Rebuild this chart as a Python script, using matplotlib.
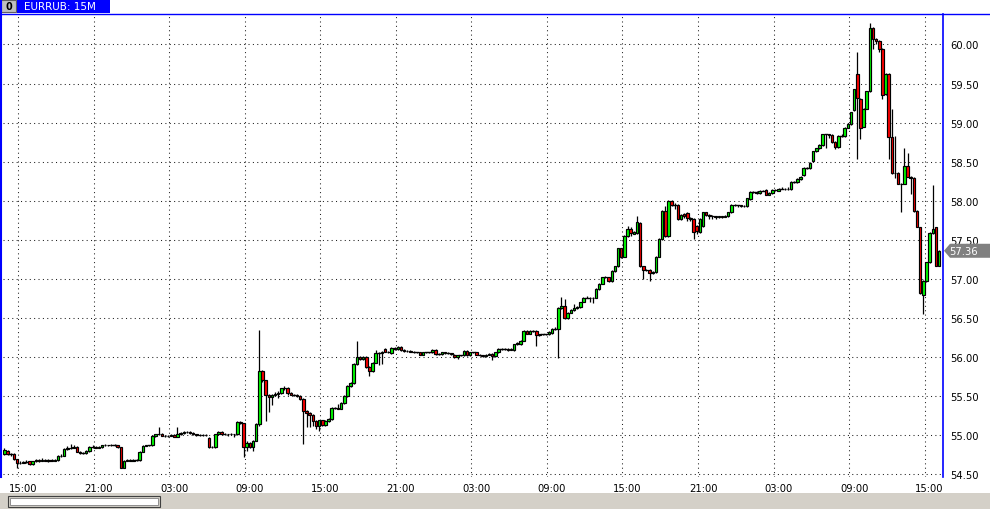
import matplotlib
matplotlib.use("Agg")
import matplotlib.pyplot as plt
from matplotlib.patches import Rectangle, Polygon
from matplotlib.lines import Line2D
import matplotlib.transforms as mtransforms

W, H = 990, 510

symbol_title = "EURRUB: 15M"
last_price = 57.36

time_labels = ["15:00", "21:00", "03:00", "09:00", "15:00", "21:00", "03:00",
               "09:00", "15:00", "21:00", "03:00", "09:00", "15:00"]
time_label_bars = [4.4, 28.4, 52.4, 76.4, 100.4, 124.4, 148.4,
                   172.4, 196.4, 220.4, 244.4, 268.4, 292.4]

price_ticks = [54.5, 55.0, 55.5, 56.0, 56.5, 57.0, 57.5, 58.0, 58.5, 59.0, 59.5, 60.0]
price_labels = ["54.50", "55.00", "55.50", "56.00", "56.50", "57.00",
                "57.50", "58.00", "58.50", "59.00", "59.50", "60.00"]

# 15-minute bars
opens = [
    54.76, 54.80, 54.76, 54.76, 54.69, 54.645, 54.65, 54.66, 54.665, 54.635, 54.665, 54.68,
    54.675, 54.68, 54.675, 54.68, 54.675, 54.68, 54.74, 54.735, 54.82, 54.84, 54.835, 54.845,
    54.79, 54.77, 54.77, 54.80, 54.85, 54.855, 54.84, 54.845, 54.87, 54.875, 54.87, 54.875,
    54.875, 54.845, 54.585, 54.675, 54.68, 54.675, 54.68, 54.68, 54.79, 54.865, 54.87, 54.87,
    54.99, 55.01, 55.02, 54.995, 54.99, 54.995, 55.0, 54.98, 55.01, 55.03, 55.035, 55.04,
    55.03, 55.01, 55.005, 55.0, 55.005, 54.97, 54.845, 54.85, 55.01, 55.04, 55.01, 55.015,
    55.01, 55.015, 55.01, 55.175, 55.15, 54.85, 54.905, 54.85, 54.93, 55.14, 55.82, 55.70,
    55.52, 55.49, 55.52, 55.53, 55.54, 55.60, 55.61, 55.54, 55.52, 55.52, 55.50, 55.46,
    55.31, 55.29, 55.26, 55.18, 55.12, 55.195, 55.13, 55.18, 55.21, 55.35, 55.35, 55.34,
    55.41, 55.50, 55.63, 55.67, 55.91, 56.00, 55.97, 56.00, 55.87, 55.82, 55.93, 56.05,
    56.05, 56.10, 56.07, 56.05, 56.12, 56.10, 56.13, 56.09, 56.08, 56.08, 56.07, 56.06,
    56.06, 56.03, 56.06, 56.06, 56.06, 56.09, 56.04, 56.04, 56.06, 56.05, 56.05, 56.03,
    55.995, 56.02, 56.02, 56.08, 56.02, 56.06, 56.065, 56.03, 56.02, 56.01, 56.03, 56.04,
    56.01, 56.06, 56.10, 56.10, 56.10, 56.095, 56.09, 56.165, 56.17, 56.21, 56.33, 56.30,
    56.33, 56.33, 56.28, 56.29, 56.29, 56.29, 56.31, 56.36, 56.36, 56.63, 56.655, 56.50,
    56.57, 56.60, 56.63, 56.64, 56.705, 56.76, 56.76, 56.755, 56.76, 56.87, 56.94, 57.02,
    57.025, 56.97, 57.10, 57.16, 57.39, 57.285, 57.55, 57.64, 57.58, 57.59, 57.72, 57.16,
    57.11, 57.12, 57.07, 57.09, 57.285, 57.51, 57.87, 57.55, 58.0, 57.95, 57.95, 57.77,
    57.83, 57.84, 57.78, 57.77, 57.68, 57.60, 57.68, 57.85, 57.82, 57.81, 57.80, 57.79,
    57.80, 57.795, 57.80, 57.85, 57.95, 57.94, 57.94, 57.935, 57.93, 58.02, 58.11, 58.11,
    58.10, 58.13, 58.14, 58.08, 58.10, 58.14, 58.13, 58.155, 58.155, 58.15, 58.15, 58.24,
    58.24, 58.28, 58.33, 58.42, 58.42, 58.51, 58.635, 58.67, 58.71, 58.85, 58.85, 58.84,
    58.75, 58.69, 58.83, 58.83, 58.935, 58.98, 59.16, 59.62, 59.305, 58.95, 59.18, 59.40,
    60.21, 60.07, 60.05, 59.945, 59.36, 59.62, 58.81, 58.36, 58.36, 58.22, 58.22, 58.44,
    58.31, 58.29, 57.87, 57.66, 56.80, 56.97, 57.21, 57.59, 57.66, 57.17,
]
closes = [
    54.81, 54.76, 54.76, 54.69, 54.645, 54.65, 54.66, 54.66, 54.635, 54.665, 54.68, 54.675,
    54.68, 54.675, 54.68, 54.675, 54.68, 54.74, 54.735, 54.82, 54.84, 54.835, 54.845, 54.79,
    54.77, 54.77, 54.80, 54.85, 54.855, 54.84, 54.845, 54.87, 54.875, 54.87, 54.875, 54.875,
    54.845, 54.585, 54.675, 54.68, 54.675, 54.68, 54.68, 54.79, 54.865, 54.87, 54.87, 54.99,
    55.01, 55.015, 54.995, 54.99, 54.995, 55.0, 54.98, 55.01, 55.03, 55.035, 55.04, 55.03,
    55.01, 55.005, 55.0, 55.005, 55.0, 54.845, 54.85, 55.01, 55.04, 55.01, 55.015, 55.01,
    55.015, 55.01, 55.175, 55.15, 54.85, 54.905, 54.85, 54.93, 55.14, 55.82, 55.70, 55.52,
    55.49, 55.52, 55.53, 55.54, 55.60, 55.605, 55.54, 55.52, 55.52, 55.50, 55.46, 55.31,
    55.29, 55.26, 55.18, 55.12, 55.195, 55.13, 55.18, 55.21, 55.35, 55.35, 55.34, 55.41,
    55.50, 55.63, 55.67, 55.91, 56.00, 55.97, 56.00, 55.87, 55.82, 55.93, 56.05, 56.05,
    56.07, 56.07, 56.06, 56.12, 56.10, 56.13, 56.09, 56.08, 56.075, 56.07, 56.06, 56.06,
    56.03, 56.06, 56.06, 56.06, 56.09, 56.04, 56.04, 56.06, 56.05, 56.05, 56.04, 56.00,
    56.02, 56.02, 56.08, 56.02, 56.06, 56.06, 56.03, 56.02, 56.01, 56.03, 56.035, 56.01,
    56.06, 56.10, 56.10, 56.10, 56.095, 56.10, 56.165, 56.18, 56.21, 56.33, 56.30, 56.33,
    56.33, 56.28, 56.29, 56.29, 56.29, 56.32, 56.36, 56.36, 56.63, 56.655, 56.50, 56.57,
    56.60, 56.63, 56.64, 56.705, 56.76, 56.76, 56.755, 56.76, 56.87, 56.94, 57.02, 57.025,
    56.97, 57.10, 57.16, 57.39, 57.285, 57.55, 57.64, 57.59, 57.595, 57.73, 57.16, 57.11,
    57.12, 57.07, 57.09, 57.285, 57.51, 57.87, 57.55, 58.0, 57.95, 57.95, 57.77, 57.82,
    57.80, 57.78, 57.77, 57.60, 57.61, 57.77, 57.85, 57.82, 57.81, 57.80, 57.79, 57.80,
    57.795, 57.80, 57.85, 57.95, 57.94, 57.94, 57.935, 57.93, 58.03, 58.11, 58.11, 58.10,
    58.13, 58.13, 58.08, 58.10, 58.14, 58.135, 58.155, 58.155, 58.15, 58.155, 58.24, 58.24,
    58.28, 58.31, 58.42, 58.42, 58.48, 58.635, 58.67, 58.71, 58.85, 58.85, 58.84, 58.75,
    58.69, 58.83, 58.83, 58.935, 58.98, 59.135, 59.425, 59.31, 58.935, 59.18, 59.40, 60.21,
    60.07, 60.05, 59.945, 59.35, 59.62, 58.81, 58.36, 58.35, 58.22, 58.21, 58.44, 58.31,
    58.29, 57.87, 57.67, 56.82, 56.97, 57.21, 57.59, 57.64, 57.17, 57.36,
]
highs = [
    54.84, 54.81, 54.77, 54.77, 54.70, 54.67, 54.67, 54.68, 54.67, 54.67, 54.69, 54.70,
    54.71, 54.70, 54.70, 54.69, 54.70, 54.75, 54.76, 54.83, 54.86, 54.885, 54.87, 54.86,
    54.80, 54.79, 54.81, 54.86, 54.87, 54.86, 54.86, 54.88, 54.89, 54.88, 54.89, 54.885,
    54.88, 54.85, 54.68, 54.69, 54.69, 54.69, 54.69, 54.80, 54.87, 54.88, 54.88, 55.00,
    55.02, 55.11, 55.03, 55.00, 55.00, 55.01, 55.01, 55.10, 55.04, 55.05, 55.05, 55.05,
    55.04, 55.02, 55.02, 55.01, 55.01, 54.98, 54.86, 55.02, 55.05, 55.05, 55.03, 55.02,
    55.03, 55.02, 55.18, 55.18, 55.16, 54.92, 54.91, 54.94, 55.15, 56.34, 55.83, 55.71,
    55.53, 55.53, 55.55, 55.56, 55.61, 55.63, 55.62, 55.55, 55.53, 55.53, 55.51, 55.47,
    55.32, 55.30, 55.27, 55.19, 55.20, 55.20, 55.19, 55.22, 55.36, 55.36, 55.40, 55.42,
    55.51, 55.64, 55.68, 55.92, 56.21, 56.01, 56.01, 56.01, 55.88, 55.94, 56.09, 56.06,
    56.08, 56.11, 56.08, 56.13, 56.13, 56.14, 56.14, 56.10, 56.09, 56.09, 56.08, 56.07,
    56.07, 56.07, 56.07, 56.07, 56.10, 56.10, 56.05, 56.07, 56.06, 56.06, 56.05, 56.04,
    56.03, 56.03, 56.09, 56.09, 56.07, 56.07, 56.07, 56.04, 56.03, 56.04, 56.05, 56.05,
    56.07, 56.11, 56.12, 56.12, 56.11, 56.12, 56.17, 56.19, 56.22, 56.34, 56.34, 56.34,
    56.34, 56.34, 56.30, 56.30, 56.30, 56.33, 56.37, 56.38, 56.64, 56.77, 56.74, 56.58,
    56.61, 56.68, 56.65, 56.71, 56.77, 56.78, 56.77, 56.77, 56.88, 56.95, 57.03, 57.04,
    57.03, 57.11, 57.17, 57.40, 57.40, 57.56, 57.68, 57.67, 57.61, 57.80, 57.73, 57.17,
    57.13, 57.13, 57.10, 57.29, 57.52, 57.88, 57.93, 58.01, 58.01, 57.97, 57.96, 57.83,
    57.84, 57.86, 57.79, 57.78, 57.69, 57.78, 57.86, 57.86, 57.83, 57.82, 57.81, 57.81,
    57.81, 57.82, 57.86, 57.96, 57.96, 57.95, 57.95, 57.95, 58.04, 58.12, 58.12, 58.12,
    58.14, 58.14, 58.15, 58.11, 58.15, 58.15, 58.16, 58.17, 58.16, 58.17, 58.25, 58.25,
    58.29, 58.32, 58.43, 58.43, 58.49, 58.64, 58.68, 58.72, 58.86, 58.86, 58.86, 58.85,
    58.76, 58.84, 58.85, 58.94, 58.99, 59.14, 59.43, 59.91, 59.31, 59.19, 59.41, 60.27,
    60.22, 60.08, 60.06, 59.95, 59.63, 59.63, 59.18, 58.83, 58.37, 58.23, 58.67, 58.61,
    58.32, 58.30, 57.88, 57.67, 56.98, 57.22, 57.60, 58.20, 57.67, 57.37,
]
lows = [
    54.75, 54.75, 54.74, 54.68, 54.585, 54.63, 54.64, 54.65, 54.62, 54.62, 54.66, 54.66,
    54.665, 54.665, 54.66, 54.665, 54.67, 54.67, 54.72, 54.73, 54.81, 54.82, 54.83, 54.78,
    54.76, 54.76, 54.76, 54.79, 54.84, 54.83, 54.83, 54.84, 54.86, 54.86, 54.86, 54.865,
    54.84, 54.58, 54.575, 54.67, 54.665, 54.67, 54.67, 54.67, 54.78, 54.86, 54.86, 54.86,
    54.98, 55.00, 54.99, 54.98, 54.98, 54.985, 54.975, 54.975, 55.00, 55.02, 55.03, 55.02,
    55.00, 54.99, 54.99, 54.99, 54.99, 54.835, 54.84, 54.84, 55.00, 55.00, 55.00, 54.99,
    55.00, 54.98, 55.00, 55.14, 54.72, 54.80, 54.84, 54.80, 54.92, 55.12, 55.68, 55.18,
    55.30, 55.38, 55.50, 55.48, 55.53, 55.58, 55.52, 55.51, 55.50, 55.49, 55.45, 54.885,
    55.10, 55.10, 55.12, 55.08, 55.06, 55.12, 55.12, 55.17, 55.20, 55.33, 55.33, 55.33,
    55.40, 55.49, 55.62, 55.66, 55.90, 55.96, 55.96, 55.86, 55.76, 55.81, 55.92, 55.90,
    55.91, 56.06, 56.05, 56.04, 56.09, 56.09, 56.08, 56.07, 56.06, 56.06, 56.05, 56.05,
    56.02, 56.02, 56.05, 56.05, 56.05, 56.03, 56.03, 56.03, 56.04, 56.04, 56.03, 55.99,
    55.98, 56.01, 56.01, 56.01, 56.01, 56.05, 56.02, 56.01, 56.00, 56.00, 56.02, 55.96,
    56.00, 56.05, 56.09, 56.09, 56.08, 56.09, 56.08, 56.16, 56.16, 56.20, 56.29, 56.29,
    56.32, 56.14, 56.27, 56.28, 56.28, 56.28, 56.30, 56.35, 55.99, 56.62, 56.49, 56.49,
    56.56, 56.59, 56.62, 56.63, 56.70, 56.75, 56.70, 56.69, 56.75, 56.86, 56.93, 57.01,
    56.96, 56.96, 57.09, 57.15, 57.27, 57.28, 57.54, 57.55, 57.57, 57.58, 57.15, 57.00,
    57.10, 56.97, 57.06, 57.08, 57.28, 57.50, 57.54, 57.54, 57.93, 57.90, 57.75, 57.76,
    57.78, 57.74, 57.74, 57.51, 57.58, 57.59, 57.67, 57.81, 57.77, 57.77, 57.77, 57.78,
    57.78, 57.79, 57.79, 57.84, 57.93, 57.92, 57.92, 57.92, 57.92, 58.01, 58.10, 58.09,
    58.09, 58.12, 58.07, 58.07, 58.09, 58.13, 58.12, 58.15, 58.14, 58.14, 58.14, 58.23,
    58.23, 58.27, 58.32, 58.41, 58.41, 58.50, 58.62, 58.66, 58.70, 58.67, 58.80, 58.74,
    58.66, 58.68, 58.82, 58.82, 58.93, 58.97, 59.15, 58.53, 58.785, 58.94, 59.17, 59.39,
    59.94, 60.00, 59.90, 59.30, 59.35, 58.53, 58.34, 58.29, 58.21, 57.86, 58.21, 58.30,
    58.09, 57.86, 57.66, 56.81, 56.55, 56.96, 57.20, 57.58, 57.16, 57.16,
]

BLUE = "#0000ff"
BULL = "#00ff00"
BEAR = "#ff0000"


def fx(px):
    return px / W


def fy(py):
    return 1 - py / H


fig = plt.figure(figsize=(W / 100, H / 100), dpi=100)
fig.patch.set_facecolor("white")

# main chart window (pixels 3..943 x 15..478)
ax = fig.add_axes([fx(3), fy(478), (943 - 3) / W, (478 - 15) / H])
ax.set_facecolor("white")
ax.set_xlim(-0.45, 298.25)
ax.set_ylim(54.465, 60.39)

ax.grid(True, color="#202020", linestyle=(0, (1, 3.2)), linewidth=0.75)
ax.set_axisbelow(True)

ax.set_yticks(price_ticks)
ax.set_yticklabels(price_labels)
ax.yaxis.tick_right()
ax.tick_params(axis="y", direction="out", length=0, pad=5,
               labelsize=7.2, colors="black")
ax.set_xticks(time_label_bars)
ax.set_xticklabels(time_labels)
ax.tick_params(axis="x", direction="out", length=0, pad=4,
               labelsize=7.2, colors="black")
# time captions sit a little to the right of their grid line
shift = mtransforms.ScaledTranslation(5 / 100, 0, fig.dpi_scale_trans)
for lbl in ax.get_xticklabels():
    lbl.set_transform(lbl.get_transform() + shift)

for side in ["left", "top", "bottom"]:
    ax.spines[side].set_visible(False)
ax.spines["right"].set_color(BLUE)
ax.spines["right"].set_linewidth(1.2)

body_w = 0.8
for i in range(len(closes)):
    o, h, l, c = opens[i], highs[i], lows[i], closes[i]
    ax.plot([i, i], [l, h], color="black", linewidth=0.9, solid_capstyle="butt", zorder=2)
    if abs(c - o) < 1e-9:
        ax.plot([i - body_w / 2, i + body_w / 2], [o, o], color="black",
                linewidth=1.0, zorder=3)
    else:
        ax.add_patch(Rectangle((i - body_w / 2, min(o, c)), body_w, abs(c - o),
                               facecolor=BULL if c > o else BEAR,
                               edgecolor="black", linewidth=0.85, zorder=3))

# last price marker on the price scale
yl = ax.transData.transform((0, last_price))[1]
ylp = H - yl
fig.patches.append(Polygon([(fx(944), fy(ylp)), (fx(950), fy(ylp - 7)), (fx(990), fy(ylp - 7)),
                            (fx(990), fy(ylp + 7)), (fx(950), fy(ylp + 7))],
                           closed=True, facecolor="#808080", edgecolor="none",
                           transform=fig.transFigure))
fig.text(fx(949), fy(ylp), f"{last_price:.2f}", color="white", fontsize=7.2,
         va="center", ha="left")

# window frame
fig.add_artist(Line2D([fx(1), fx(1)], [fy(0), fy(478)], color=BLUE, linewidth=1.5))
fig.add_artist(Line2D([fx(0), fx(990)], [fy(14.5), fy(14.5)], color=BLUE, linewidth=1.0))

# header: object icon + symbol caption
fig.patches.append(Rectangle((fx(1), fy(13)), 15 / W, 12 / H, facecolor="#c0c0c0",
                             edgecolor="#606060", linewidth=0.8, transform=fig.transFigure))
fig.text(fx(8.5), fy(7), "0", fontsize=7, fontweight="bold", ha="center", va="center")
fig.patches.append(Rectangle((fx(17), fy(14)), 93 / W, 14 / H, facecolor=BLUE,
                             edgecolor="none", transform=fig.transFigure))
fig.text(fx(24), fy(7.5), symbol_title, color="white", fontsize=7.5, ha="left", va="center")

# horizontal scroll bar
fig.patches.append(Rectangle((0, 0), 1, 16 / H, facecolor="#d4d0c8", edgecolor="none",
                             transform=fig.transFigure))
fig.patches.append(Rectangle((fx(8), fy(508)), 152 / W, 11 / H, facecolor="#d4d0c8",
                             edgecolor="#404040", linewidth=0.8, transform=fig.transFigure))
fig.patches.append(Rectangle((fx(10), fy(506)), 148 / W, 7 / H, facecolor="#ffffff",
                             edgecolor="#808080", linewidth=0.6, transform=fig.transFigure))

fig.savefig("out.png", dpi=100, facecolor=fig.get_facecolor())
